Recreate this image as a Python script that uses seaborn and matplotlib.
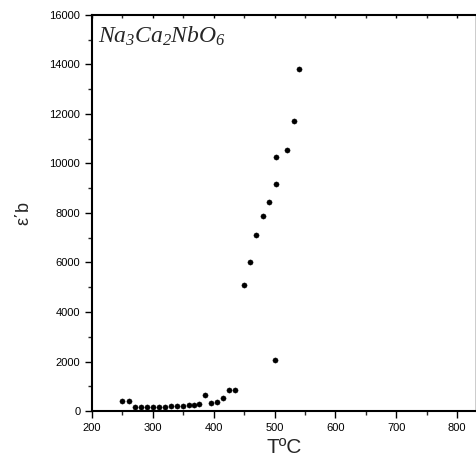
import matplotlib
matplotlib.use("Agg")
import matplotlib.pyplot as plt
import seaborn as sns
import pandas as pd
from matplotlib.ticker import MultipleLocator

temperature = [250, 260, 270, 280, 290, 300, 310, 320, 330, 340, 350, 360, 368, 376,
               385, 395, 405, 415, 425, 435,
               450, 460, 470, 481, 491, 501, 502, 502, 521, 532, 540]
epsilon = [400, 400, 160, 160, 160, 170, 170, 180, 190, 200, 215, 240, 260, 270,
           635, 325, 380, 515, 860, 860,
           5100, 6030, 7110, 7870, 8450, 2050, 9160, 10260, 10550, 11710, 13800]

df = pd.DataFrame({"T": temperature, "eps": epsilon})

sns.set_style("white")
plt.rcParams["font.family"] = ["Liberation Sans", "DejaVu Sans"]
plt.rcParams["mathtext.fontset"] = "custom"
plt.rcParams["mathtext.it"] = "Liberation Serif:italic"
plt.rcParams["mathtext.rm"] = "Liberation Serif:italic"

fig = plt.figure(figsize=(4.77, 4.65), dpi=100)
ax = fig.add_axes([0.193, 0.116, 0.805, 0.852])

sns.scatterplot(data=df, x="T", y="eps", ax=ax, color="black", s=14,
                edgecolor="black", linewidth=0.3)

ax.set_xlim(200, 831)
ax.set_ylim(0, 16000)
ax.xaxis.set_major_locator(MultipleLocator(100))
ax.xaxis.set_minor_locator(MultipleLocator(50))
ax.yaxis.set_major_locator(MultipleLocator(2000))
ax.yaxis.set_minor_locator(MultipleLocator(1000))

ax.tick_params(axis="both", which="major", direction="out", length=5, width=1,
               labelsize=8, colors="black", bottom=True, left=True)
ax.tick_params(axis="both", which="minor", direction="out", length=3, width=1,
               bottom=True, left=True)
ax.tick_params(axis="x", which="both", top=True, direction="out")
ax.tick_params(axis="x", which="both", top=True)
for t in ax.xaxis.get_ticklines(minor=False)[1::2] + ax.xaxis.get_ticklines(minor=True)[1::2]:
    t.set_markersize(2)
    t.set_marker(3)

for side in ["left", "bottom", "top"]:
    ax.spines[side].set_linewidth(1.5)
    ax.spines[side].set_color("black")
ax.spines["right"].set_linewidth(1.0)
ax.spines["right"].set_color("black")

ax.set_xlabel("TºC", fontsize=15)
ax.set_ylabel("ε΄b", fontsize=13, labelpad=12)

ax.text(0.015, 0.975, r"$Na_3Ca_2NbO_6$", transform=ax.transAxes,
        fontsize=17, va="top", ha="left")

fig.savefig("out.png", dpi=100)
